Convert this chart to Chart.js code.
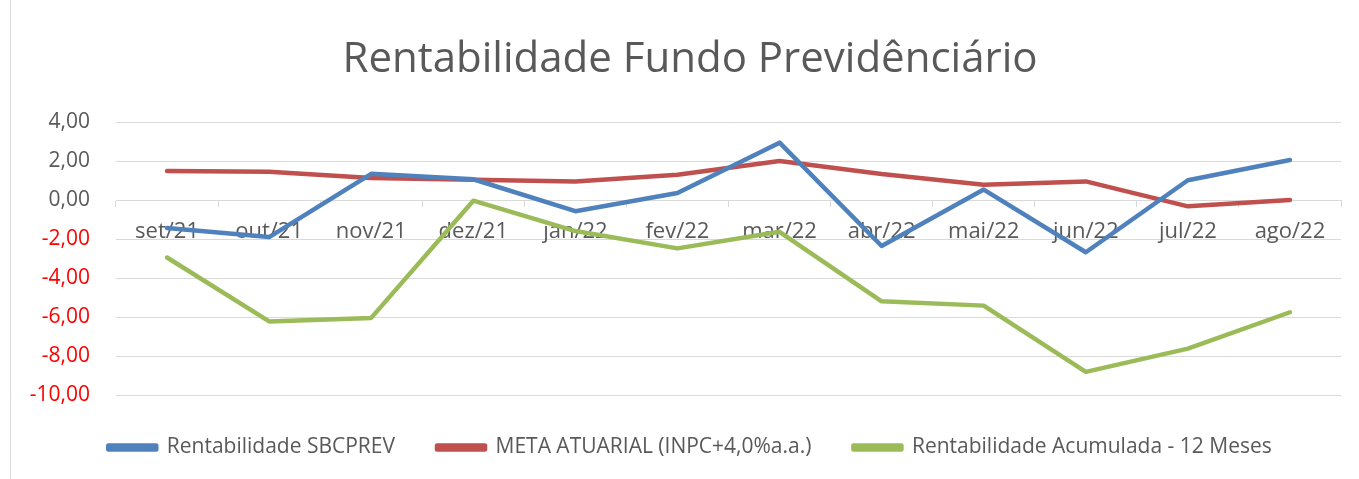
<!DOCTYPE html>
<html><head><meta charset="utf-8">
<script src="https://cdn.jsdelivr.net/npm/chart.js@4/dist/chart.umd.min.js"></script>
<style>
html,body{margin:0;padding:0;background:#fff;}
#wrap{position:relative;width:1359px;height:479px;}
#edge{position:absolute;left:10px;top:0;width:1px;height:479px;background:#d9d9d9;}
canvas{position:absolute;left:0;top:0;}
</style></head>
<body><div id="wrap"><div id="edge"></div><canvas id="c" width="1359" height="479"></canvas></div>
<script>
const categories = ['set/21','out/21','nov/21','dez/21','jan/22','fev/22','mar/22','abr/22','mai/22','jun/22','jul/22','ago/22'];
const sbcprev = [-1.42, -1.89, 1.36, 1.08, -0.56, 0.37, 2.96, -2.35, 0.55, -2.67, 1.03, 2.07];
const metaAtuarial = [1.50, 1.47, 1.14, 1.05, 0.97, 1.31, 2.02, 1.35, 0.80, 0.97, -0.31, 0.02];
const acumulada12 = [-2.94, -6.22, -6.04, -0.02, -1.58, -2.47, -1.62, -5.19, -5.41, -8.81, -7.62, -5.75];
const yTicks = [4, 2, 0, -2, -4, -6, -8, -10];

const FONT = "'Open Sans', sans-serif";
new Chart(document.getElementById('c'), {
  type: 'line',
  data: {
    labels: categories,
    datasets: [
      {label: 'Rentabilidade SBCPREV', data: sbcprev, borderColor: '#4f81bd', backgroundColor: '#4f81bd'},
      {label: 'META ATUARIAL (INPC+4,0%a.a.)', data: metaAtuarial, borderColor: '#c0504d', backgroundColor: '#c0504d'},
      {label: 'Rentabilidade Acumulada - 12 Meses', data: acumulada12, borderColor: '#9bbb59', backgroundColor: '#9bbb59'}
    ]
  },
  options: {
    responsive: false,
    animation: false,
    elements: {
      line: {borderWidth: 4.5, tension: 0, borderCapStyle: 'round', borderJoinStyle: 'round'},
      point: {radius: 0, hoverRadius: 0}
    },
    layout: {padding: {left: 25, right: 4, top: 0, bottom: 11}},
    plugins: {
      title: {
        display: true,
        text: 'Rentabilidade Fundo Previdênciário',
        color: '#595959',
        font: {family: FONT, size: 42, weight: 'normal'},
        padding: {top: 35, bottom: 37}
      },
      legend: {
        position: 'bottom',
        labels: {
          boxWidth: 48, boxHeight: 4,
          padding: 42,
          color: '#595959',
          font: {family: FONT, size: 21}
        }
      },
      tooltip: {enabled: false}
    },
    scales: {
      x: {
        position: {y: 0},
        offset: true,
        grid: {display: true, drawOnChartArea: false, drawTicks: true, tickLength: 6, offset: true, color: '#d9d9d9', lineWidth: 1},
        border: {display: true, color: '#d9d9d9', width: 1},
        ticks: {color: '#595959', font: {family: FONT, size: 22}, padding: 12, maxRotation: 0, autoSkip: false}
      },
      y: {
        min: -10, max: 4,
        afterFit: (s) => { s.width = 91; },
        afterBuildTicks: (s) => { s.ticks = yTicks.map(v => ({value: v})); },
        grid: {color: '#d9d9d9', lineWidth: 1, drawTicks: false},
        border: {display: false},
        ticks: {
          padding: 26,
          font: {family: FONT, size: 21},
          color: (ctx) => ctx.tick && ctx.tick.value < 0 ? '#ff0000' : '#595959',
          callback: (v) => v.toFixed(2).replace('.', ',')
        }
      },
      ySpacer: {
        type: 'linear',
        position: 'right',
        min: -10, max: 4,
        afterFit: (s) => { s.width = 14; },
        grid: {display: false},
        border: {display: false},
        ticks: {display: false}
      }
    }
  }
});
</script></body></html>
